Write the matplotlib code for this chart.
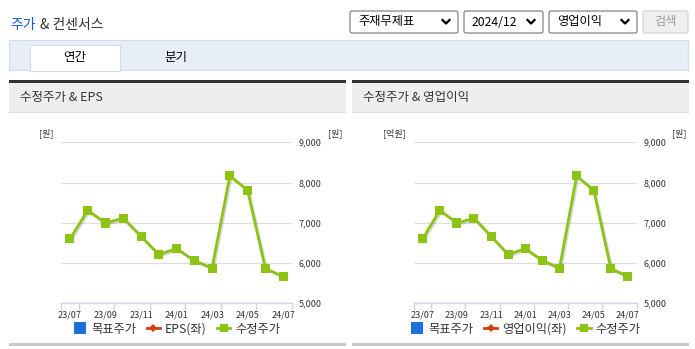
import numpy as np
import matplotlib
matplotlib.use("Agg")
import matplotlib.pyplot as plt
import matplotlib.patheffects as pe
from matplotlib.lines import Line2D
from matplotlib.patches import Rectangle, FancyBboxPatch

plt.rcParams['font.family'] = ['Noto Sans CJK KR', 'DejaVu Sans']

# data
months = ['23/07', '23/08', '23/09', '23/10', '23/11', '23/12', '24/01',
          '24/02', '24/03', '24/04', '24/05', '24/06', '24/07']
adj_price = [6600, 7310, 6995, 7115, 6665, 6210, 6360, 6060, 5875,
             8165, 7810, 5865, 5665]
price_ticks = [5000, 6000, 7000, 8000, 9000]

panels = [
    {"title": "수정주가 & EPS", "left_unit": "[원]", "series": "EPS(좌)"},
    {"title": "수정주가 & 영업이익", "left_unit": "[억원]", "series": "영업이익(좌)"},
]

W, H = 695, 349
GREEN = '#8cc314'
BLUE = '#1f6fd8'
RED = '#d43c12'
AXIS = '#ccd6eb'
TXT = '#333333'

fig = plt.figure(figsize=(W / 100, H / 100), dpi=100)

# page decoration layer, pixel coordinates from top-left
bg = fig.add_axes([0, 0, 1, 1], zorder=0)
bg.set_xlim(0, W)
bg.set_ylim(H, 0)
bg.axis('off')


def rect(x0, y0, x1, y1, fc, ec='none', lw=0.0):
    bg.add_patch(Rectangle((x0, y0), x1 - x0, y1 - y0, facecolor=fc,
                           edgecolor=ec, linewidth=lw))


def pax(x0, y0, x1, y1):
    """axes rect from pixel box (top-left origin)"""
    return [x0 / W, 1 - y1 / H, (x1 - x0) / W, (y1 - y0) / H]


# title
bg.text(10, 25, "주가", color='#1a5fc8', fontsize=10, va='center')
bg.text(40, 25, "& 컨센서스", color=TXT, fontsize=10, va='center')

# dropdowns
for x0, x1, label in [(350, 458, "주재무제표"), (464, 543, "2024/12"),
                      (549, 637, "영업이익")]:
    bg.add_patch(FancyBboxPatch((x0, 11), x1 - x0, 22,
                                boxstyle="round,pad=0,rounding_size=2",
                                facecolor='white', edgecolor='#767676', lw=0.8))
    bg.text(x0 + 8, 22, label, fontsize=8.8, va='center', color='black')
    cx = x1 - 12
    bg.plot([cx - 3.5, cx, cx + 3.5], [20, 23.5, 20], color='black', lw=1.6)
bg.add_patch(FancyBboxPatch((643, 11), 45, 22,
                            boxstyle="round,pad=0,rounding_size=2",
                            facecolor='#efefef', edgecolor='#d0d0d0', lw=0.8))
bg.text(665.5, 22, "검색", fontsize=8.8, va='center', ha='center',
        color='#9a9a9a')

# tab bar
rect(9, 40, 688, 70, '#e8eef8', '#d3dbe8', 0.8)
rect(30, 45, 120, 70.5, 'white', '#d3dbe8', 0.8)
rect(30.6, 69, 119.4, 71, 'white')
bg.text(75, 57.5, "연간", fontsize=9, ha='center', va='center', color='black')
bg.text(176, 57.5, "분기", fontsize=9, ha='center', va='center', color='black')

# chart panels
panel_x = [(9, 346), (352, 689)]
plot_x = [(61.1, 292), (414.1, 636.5)]
unit_x = [(46, 335), (394, 679)]
y_top, y_bot = 142.3, 303.3

for p, (px0, px1), (ax0, ax1), (ux0, ux1) in zip(panels, panel_x, plot_x, unit_x):
    rect(px0, 80, px1, 82.5, '#333333')
    rect(px0, 82.5, px1, 112, '#eeeeee')
    rect(px0, 111.5, px1, 112.5, '#dddddd')
    rect(px0, 342.5, px1, 345.5, '#c8c8c8')
    bg.text(px0 + 11, 97, p["title"], fontsize=9, va='center', color=TXT)
    bg.text(ux0, 133, p["left_unit"], fontsize=6.5, ha='center', va='center',
            color=TXT)
    bg.text(ux1, 133, "[원]", fontsize=6.5, ha='center', va='center', color=TXT)

    ax = fig.add_axes(pax(ax0, y_top, ax1, y_bot), zorder=1)
    ax.set_facecolor('none')
    x = np.arange(len(months))
    ax.plot(x, adj_price, color=GREEN, lw=2, marker='s', markersize=6.5,
            markeredgewidth=0, zorder=3,
            path_effects=[pe.SimpleLineShadow(offset=(1, -1), alpha=0.15,
                                              shadow_color='black'),
                          pe.Normal()])
    ax.set_xlim(-0.5, len(months) - 0.5)
    ax.set_ylim(price_ticks[0], price_ticks[-1])
    ax.set_yticks(price_ticks)
    ax.set_yticklabels([f"{v:,}" for v in price_ticks])
    ax.yaxis.tick_right()
    ax.tick_params(axis='y', length=0, pad=5, labelsize=6.5, labelcolor=TXT)
    ax.grid(axis='y', color='#dedede', lw=0.9)
    ax.set_axisbelow(True)
    for s in ['top', 'left', 'right']:
        ax.spines[s].set_visible(False)
    ax.spines['bottom'].set_color(AXIS)
    ax.spines['bottom'].set_linewidth(1)
    ax.set_xticks(x[::2])
    ax.set_xticklabels(months[::2])
    ax.set_xticks(np.r_[-0.5, np.arange(0.5, len(months), 2)], minor=True)
    ax.tick_params(axis='x', which='major', length=0, pad=5, labelsize=6.5,
                   labelcolor=TXT)
    ax.tick_params(axis='x', which='minor', length=5, color=AXIS, width=1)

    handles = [
        Line2D([], [], ls='none', marker='s', markersize=8, color=BLUE,
               markeredgewidth=0),
        Line2D([], [], color=RED, lw=2, marker='D', markersize=4.5,
               markeredgewidth=0),
        Line2D([], [], color=GREEN, lw=2, marker='s', markersize=6,
               markeredgewidth=0),
    ]
    ax.legend(handles, ["목표주가", p["series"], "수정주가"], ncol=3,
              loc='center', bbox_to_anchor=(0.5, -0.16), frameon=False,
              fontsize=8.8, handlelength=1.1, handletextpad=0.4,
              columnspacing=0.85, labelcolor=TXT)

fig.savefig("out.png", dpi=100)
